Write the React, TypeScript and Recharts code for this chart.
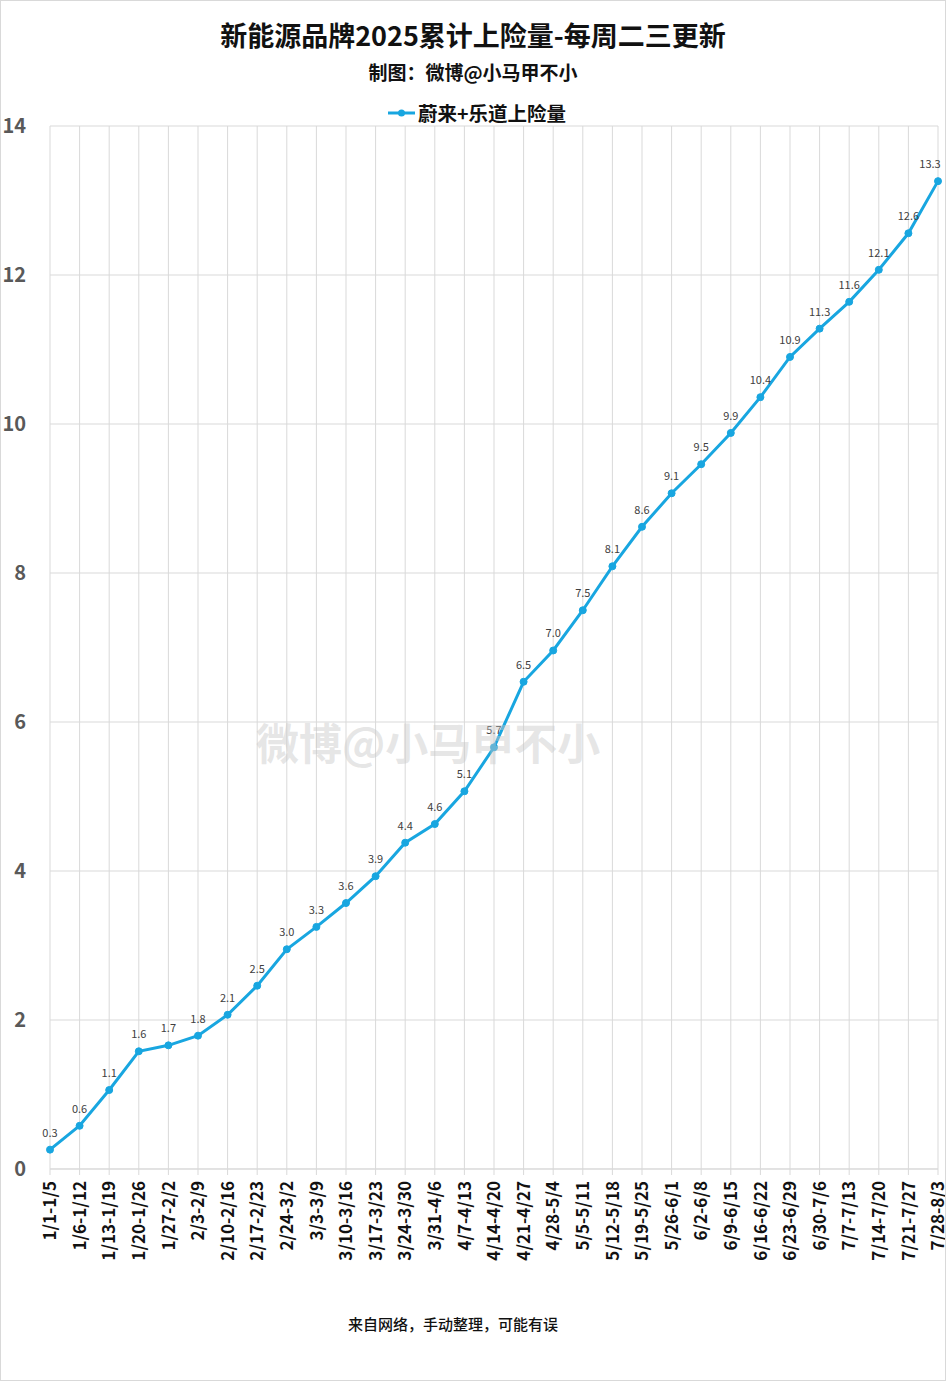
import React from "react";
import {
  LineChart,
  Line,
  XAxis,
  YAxis,
  CartesianGrid,
  LabelList,
} from "recharts";

const weeks = [
  "1/1-1/5", "1/6-1/12", "1/13-1/19", "1/20-1/26", "1/27-2/2", "2/3-2/9",
  "2/10-2/16", "2/17-2/23", "2/24-3/2", "3/3-3/9", "3/10-3/16", "3/17-3/23",
  "3/24-3/30", "3/31-4/6", "4/7-4/13", "4/14-4/20", "4/21-4/27", "4/28-5/4",
  "5/5-5/11", "5/12-5/18", "5/19-5/25", "5/26-6/1", "6/2-6/8", "6/9-6/15",
  "6/16-6/22", "6/23-6/29", "6/30-7/6", "7/7-7/13", "7/14-7/20", "7/21-7/27",
  "7/28-8/3",
];

// 万辆, cumulative
const nioOnvo = [
  0.26, 0.58, 1.06, 1.58, 1.66, 1.79, 2.07, 2.46, 2.95, 3.25, 3.57, 3.93,
  4.38, 4.63, 5.07, 5.66, 6.54, 6.96, 7.5, 8.09, 8.62, 9.07, 9.46, 9.88,
  10.36, 10.9, 11.28, 11.64, 12.07, 12.56, 13.26,
];

const yTicks = [0, 2, 4, 6, 8, 10, 12, 14];

const data = weeks.map((w, i) => ({ week: w, value: nioOnvo[i] }));

const FONT = '"Noto Sans CJK SC", "Noto Sans", sans-serif';
const LINE_COLOR = "#18a6e0";

const XTick = ({ x, y, payload }: any) => (
  <g transform={`translate(${x},${y + 4}) rotate(-90)`}>
    <text
      textAnchor="end"
      dy="0.36em"
      fontSize={17}
      fontWeight={700}
      fill="#111"
      fontFamily={FONT}
    >
      {payload.value}
    </text>
  </g>
);

const YTick = ({ y, payload }: any) => (
  <text
    x={25}
    y={y}
    dy="0.36em"
    textAnchor="end"
    fontSize={20}
    fontWeight={700}
    fill="#595959"
    fontFamily={FONT}
  >
    {payload.value}
  </text>
);

const PointLabel = ({ x, y, value }: any) => {
  const lx = Math.min(x, 929);
  return (
    <text
      x={lx}
      y={y - 13}
      textAnchor="middle"
      fontSize={11}
      fill="#404040"
      fontFamily={FONT}
    >
      {Number(value).toFixed(1)}
    </text>
  );
};

export default function App() {
  return (
    <div
      style={{
        position: "relative",
        width: 944,
        height: 1379,
        border: "1px solid #d9d9d9",
        background: "#fff",
        fontFamily: FONT,
      }}
    >
      <style>{"body{margin:0}"}</style>
      <div
        style={{
          position: "absolute",
          top: 14,
          left: 0,
          width: 944,
          textAlign: "center",
          fontSize: 27,
          fontWeight: 700,
          color: "#111",
          lineHeight: "40px",
        }}
      >
        新能源品牌2025累计上险量-每周二三更新
      </div>
      <div
        style={{
          position: "absolute",
          top: 56,
          left: 0,
          width: 944,
          textAlign: "center",
          fontSize: 19,
          fontWeight: 700,
          color: "#111",
          lineHeight: "30px",
        }}
      >
        制图：微博@小马甲不小
      </div>
      <div
        style={{
          position: "absolute",
          top: 97,
          left: 386,
          display: "flex",
          alignItems: "center",
          fontSize: 19.5,
          fontWeight: 700,
          color: "#111",
          lineHeight: "30px",
        }}
      >
        <svg width={29} height={10} style={{ marginRight: 2 }}>
          <line x1={1} y1={5} x2={28} y2={5} stroke={LINE_COLOR} strokeWidth={3} />
          <circle cx={14.5} cy={5} r={3.5} fill={LINE_COLOR} />
        </svg>
        蔚来+乐道上险量
      </div>
      <LineChart
        width={944}
        height={1379}
        data={data}
        margin={{ top: 125, right: 7, left: 0, bottom: 0 }}
      >
        <CartesianGrid stroke="#d9d9d9" strokeWidth={1} />
        <XAxis
          dataKey="week"
          scale="point"
          padding={{ left: 0, right: 0 }}
          interval={0}
          axisLine={{ stroke: "#d9d9d9" }}
          tickLine={{ stroke: "#d9d9d9" }}
          tickSize={6}
          tick={<XTick />}
          height={211}
        />
        <YAxis
          domain={[0, 14]}
          ticks={yTicks}
          width={49}
          axisLine={false}
          tickLine={false}
          tick={<YTick />}
        />
        <Line
          dataKey="value"
          stroke={LINE_COLOR}
          strokeWidth={3}
          dot={{ r: 3.5, fill: LINE_COLOR, stroke: LINE_COLOR, strokeWidth: 1 }}
          isAnimationActive={false}
        >
          <LabelList dataKey="value" content={<PointLabel />} />
        </Line>
      </LineChart>
      <div
        style={{
          position: "absolute",
          top: 711,
          left: 255,
          fontSize: 43,
          fontWeight: 700,
          color: "rgba(200,200,200,0.45)",
          pointerEvents: "none",
          lineHeight: "58px",
        }}
      >
        微博@小马甲不小
      </div>
      <div
        style={{
          position: "absolute",
          top: 1311,
          left: 0,
          width: 904,
          textAlign: "center",
          fontSize: 15,
          fontWeight: 500,
          color: "#111",
          lineHeight: "24px",
        }}
      >
        来自网络，手动整理，可能有误
      </div>
    </div>
  );
}
